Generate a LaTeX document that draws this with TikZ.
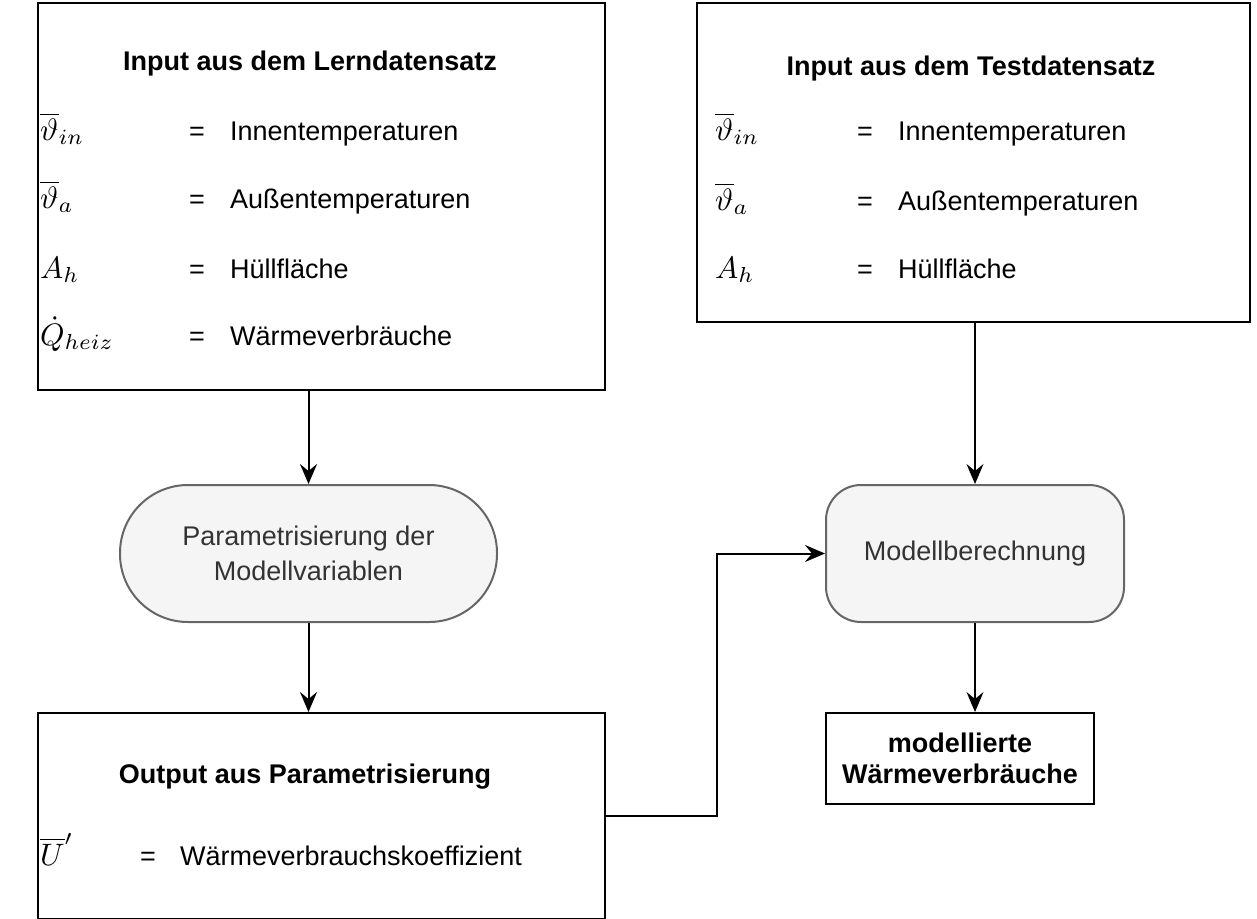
\documentclass[tikz,border=0pt]{standalone}
\usepackage{graphicx}
\usepackage{fontspec}
\setmainfont{Liberation Sans}
\usetikzlibrary{arrows.meta}
\definecolor{grayline}{HTML}{666666}
\definecolor{grayfill}{HTML}{F5F5F5}
\definecolor{graytext}{HTML}{333333}
\newcommand\fsz{\fontsize{27}{35}\selectfont}
\newcommand\mathbig[1]{\scalebox{3.1}{$#1$}}
\begin{document}
\begin{tikzpicture}[x=1pt,y=-1pt,
  box/.style={draw=black,line width=2pt,fill=white,inner sep=0pt},
  proc/.style={draw=grayline,line width=2pt,fill=grayfill,inner sep=0pt,text=graytext,align=center,font=\fsz},
  arr/.style={line width=2pt,-{Stealth[length=20pt,width=17pt,inset=7pt]}},
  ttl/.style={font=\fsz\bfseries,inner sep=0pt,anchor=base},
  txt/.style={font=\fsz,inner sep=0pt,anchor=base west},
  mth/.style={font=\normalsize,inner sep=0pt,anchor=base west}]
\useasboundingbox (0,0) rectangle (1257,918);
\clip (0,0) rectangle (1257,918);
% boxes
\node[box,minimum width=567pt,minimum height=387pt] (lern) at (321.5,196.5) {};
\node[box,minimum width=553pt,minimum height=319pt] (test) at (973.5,162.5) {};
\node[proc,minimum width=377pt,minimum height=137pt,rounded corners=68pt] (param) at (308.5,553.5) {Parametrisierung der\\Modellvariablen};
\node[proc,minimum width=298pt,minimum height=137pt,rounded corners=35pt] (mb) at (975,553.5) {Modellberechnung};
\node[box,minimum width=567pt,minimum height=206pt] (out) at (321.5,816) {};
\node[box,minimum width=268pt,minimum height=91pt,align=center,font=\fontsize{27}{31}\selectfont\bfseries] (res) at (960,758.5) {modellierte\\Wärmeverbräuche};
% box 1 content
\node[ttl] (t1) at (310,70) {Input aus dem Lerndatensatz};
\node[mth] (m11) at (40,140) {\mathbig{\overline{\vartheta}_{in}}};
\node[txt] (e11) at (189,140) {=};
\node[txt] (x11) at (230,140) {Innentemperaturen};
\node[mth] (m12) at (40,208) {\mathbig{\overline{\vartheta}_{a}}};
\node[txt] (e12) at (189,208) {=};
\node[txt] (x12) at (230,208) {Außentemperaturen};
\node[mth] (m13) at (40,278) {\mathbig{A_h}};
\node[txt] (e13) at (189,278) {=};
\node[txt] (x13) at (230,278) {Hüllfläche};
\node[mth] (m14) at (40,345) {\mathbig{\dot{Q}_{heiz}}};
\node[txt] (e14) at (189,345) {=};
\node[txt] (x14) at (230,345) {Wärmeverbräuche};
% box 2 content
\node[ttl] (t2) at (971,75) {Input aus dem Testdatensatz};
\node[mth] (m21) at (715,140) {\mathbig{\overline{\vartheta}_{in}}};
\node[txt] (e21) at (857,140) {=};
\node[txt] (x21) at (898,140) {Innentemperaturen};
\node[mth] (m22) at (715,210) {\mathbig{\overline{\vartheta}_{a}}};
\node[txt] (e22) at (857,210) {=};
\node[txt] (x22) at (898,210) {Außentemperaturen};
\node[mth] (m23) at (715,278) {\mathbig{A_h}};
\node[txt] (e23) at (857,278) {=};
\node[txt] (x23) at (898,278) {Hüllfläche};
% box 3 content
\node[ttl] (t3) at (305,783) {Output aus Parametrisierung};
\node[mth] (m31) at (40,865) {\mathbig{\overline{U}'}};
\node[txt] (e31) at (140,865) {=};
\node[txt] (x31) at (180,865) {Wärmeverbrauchskoeffizient};
% connectors
\coordinate (bend) at (717,816);
\draw[arr] (param.north |- lern.south) -- (param.north);
\draw[arr] (param.south) -- (param.south |- out.north);
\draw[arr] (mb.north |- test.south) -- (mb.north);
\draw[arr] (mb.south) -- (mb.south |- res.north);
\draw[arr] (out.east) -- (bend) |- (mb.west);
\end{tikzpicture}
\end{document}
